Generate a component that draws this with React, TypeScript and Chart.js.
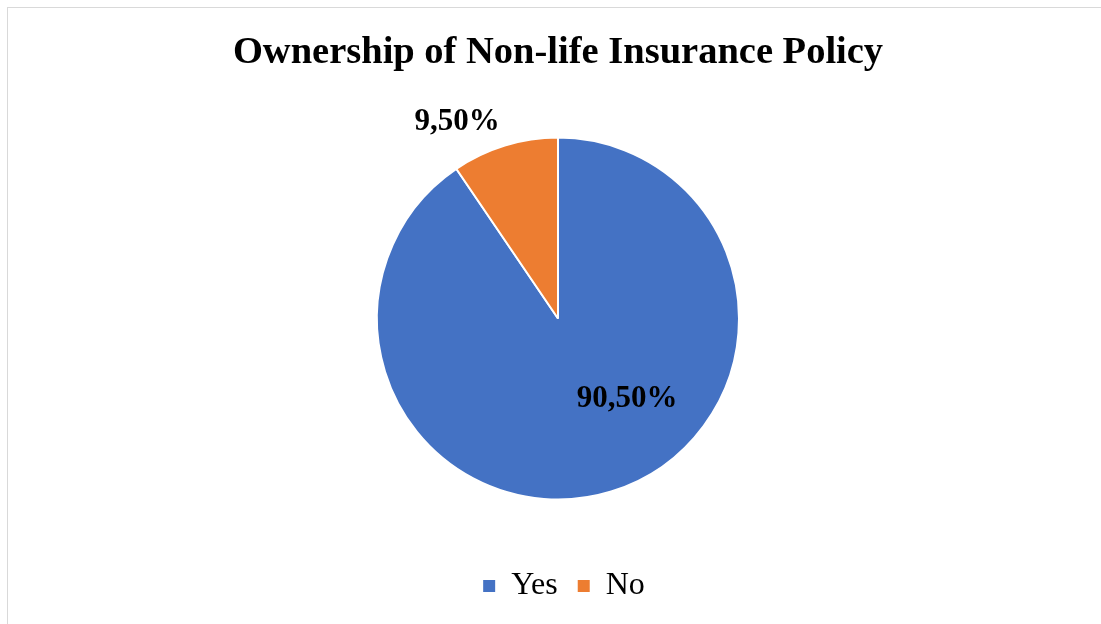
import React, { useEffect, useRef } from "react";
import { Chart, registerables } from "chart.js";

Chart.register(...registerables);

const categories = ["Yes", "No"];
const shares = [90.5, 9.5];
const shareLabels = ["90,50%", "9,50%"];
const colors = ["#4472C4", "#ED7D31"];
const titleText = "Ownership of Non-life Insurance Policy";

const SERIF = "'Liberation Serif', 'Times New Roman', serif";

// label offsets relative to pie centre (style config)
const labelOffsets = [
  { dx: 69, dy: 80 },
  { dx: -101, dy: -197 },
];
const legendShiftX = 6;

const labelPlugin = {
  id: "sliceLabels",
  afterLayout(chart: any) {
    if (chart.legend) {
      chart.legend.left += legendShiftX;
      chart.legend.right += legendShiftX;
    }
  },
  afterDatasetsDraw(chart: any) {
    const meta = chart.getDatasetMeta(0);
    const ctx = chart.ctx;
    ctx.save();
    ctx.font = `bold 31px ${SERIF}`;
    ctx.fillStyle = "#000000";
    ctx.textAlign = "center";
    ctx.textBaseline = "middle";
    meta.data.forEach((arc: any, i: number) => {
      const o = labelOffsets[i];
      ctx.fillText(shareLabels[i], arc.x + o.dx, arc.y + o.dy);
    });
    ctx.restore();
  },
};

export default function App() {
  const ref = useRef<HTMLCanvasElement | null>(null);
  useEffect(() => {
    document.documentElement.style.overflow = "hidden";
    document.body.style.overflow = "hidden";
    if (!ref.current) return;
    const chart = new Chart(ref.current, {
      type: "pie",
      data: {
        labels: categories,
        datasets: [
          {
            data: shares,
            backgroundColor: colors,
            borderColor: "#ffffff",
            borderWidth: 2,
            radius: 181,
          } as any,
        ],
      },
      options: {
        responsive: false,
        maintainAspectRatio: false,
        animation: false,
        layout: { padding: { left: 7, right: 0, top: 0, bottom: 12 } },
        plugins: {
          title: {
            display: true,
            text: titleText,
            color: "#000000",
            font: { family: SERIF, size: 38.5, weight: "bold" },
            padding: { top: 22.3, bottom: 10.5 },
          },
          legend: {
            display: true,
            position: "bottom",
            labels: {
              color: "#000000",
              font: { family: SERIF, size: 32 },
              boxWidth: 12,
              boxHeight: 12,
              padding: 20,
              generateLabels: (chart: any) =>
                categories.map((c, i) => ({
                  text: c,
                  fillStyle: colors[i],
                  strokeStyle: colors[i],
                  lineWidth: 0,
                  fontColor: "#000000",
                  hidden: false,
                  index: i,
                })),
            },
          },
          tooltip: { enabled: false },
        },
      },
      plugins: [labelPlugin],
    });
    return () => chart.destroy();
  }, []);
  return (
    <div
      style={{
        position: "absolute",
        left: 7,
        top: 7,
        width: 1100,
        height: 620,
        border: "1px solid #d9d9d9",
        background: "#ffffff",
      }}
    >
      <canvas ref={ref} width={1093} height={616} style={{ display: "block" }} />
    </div>
  );
}
